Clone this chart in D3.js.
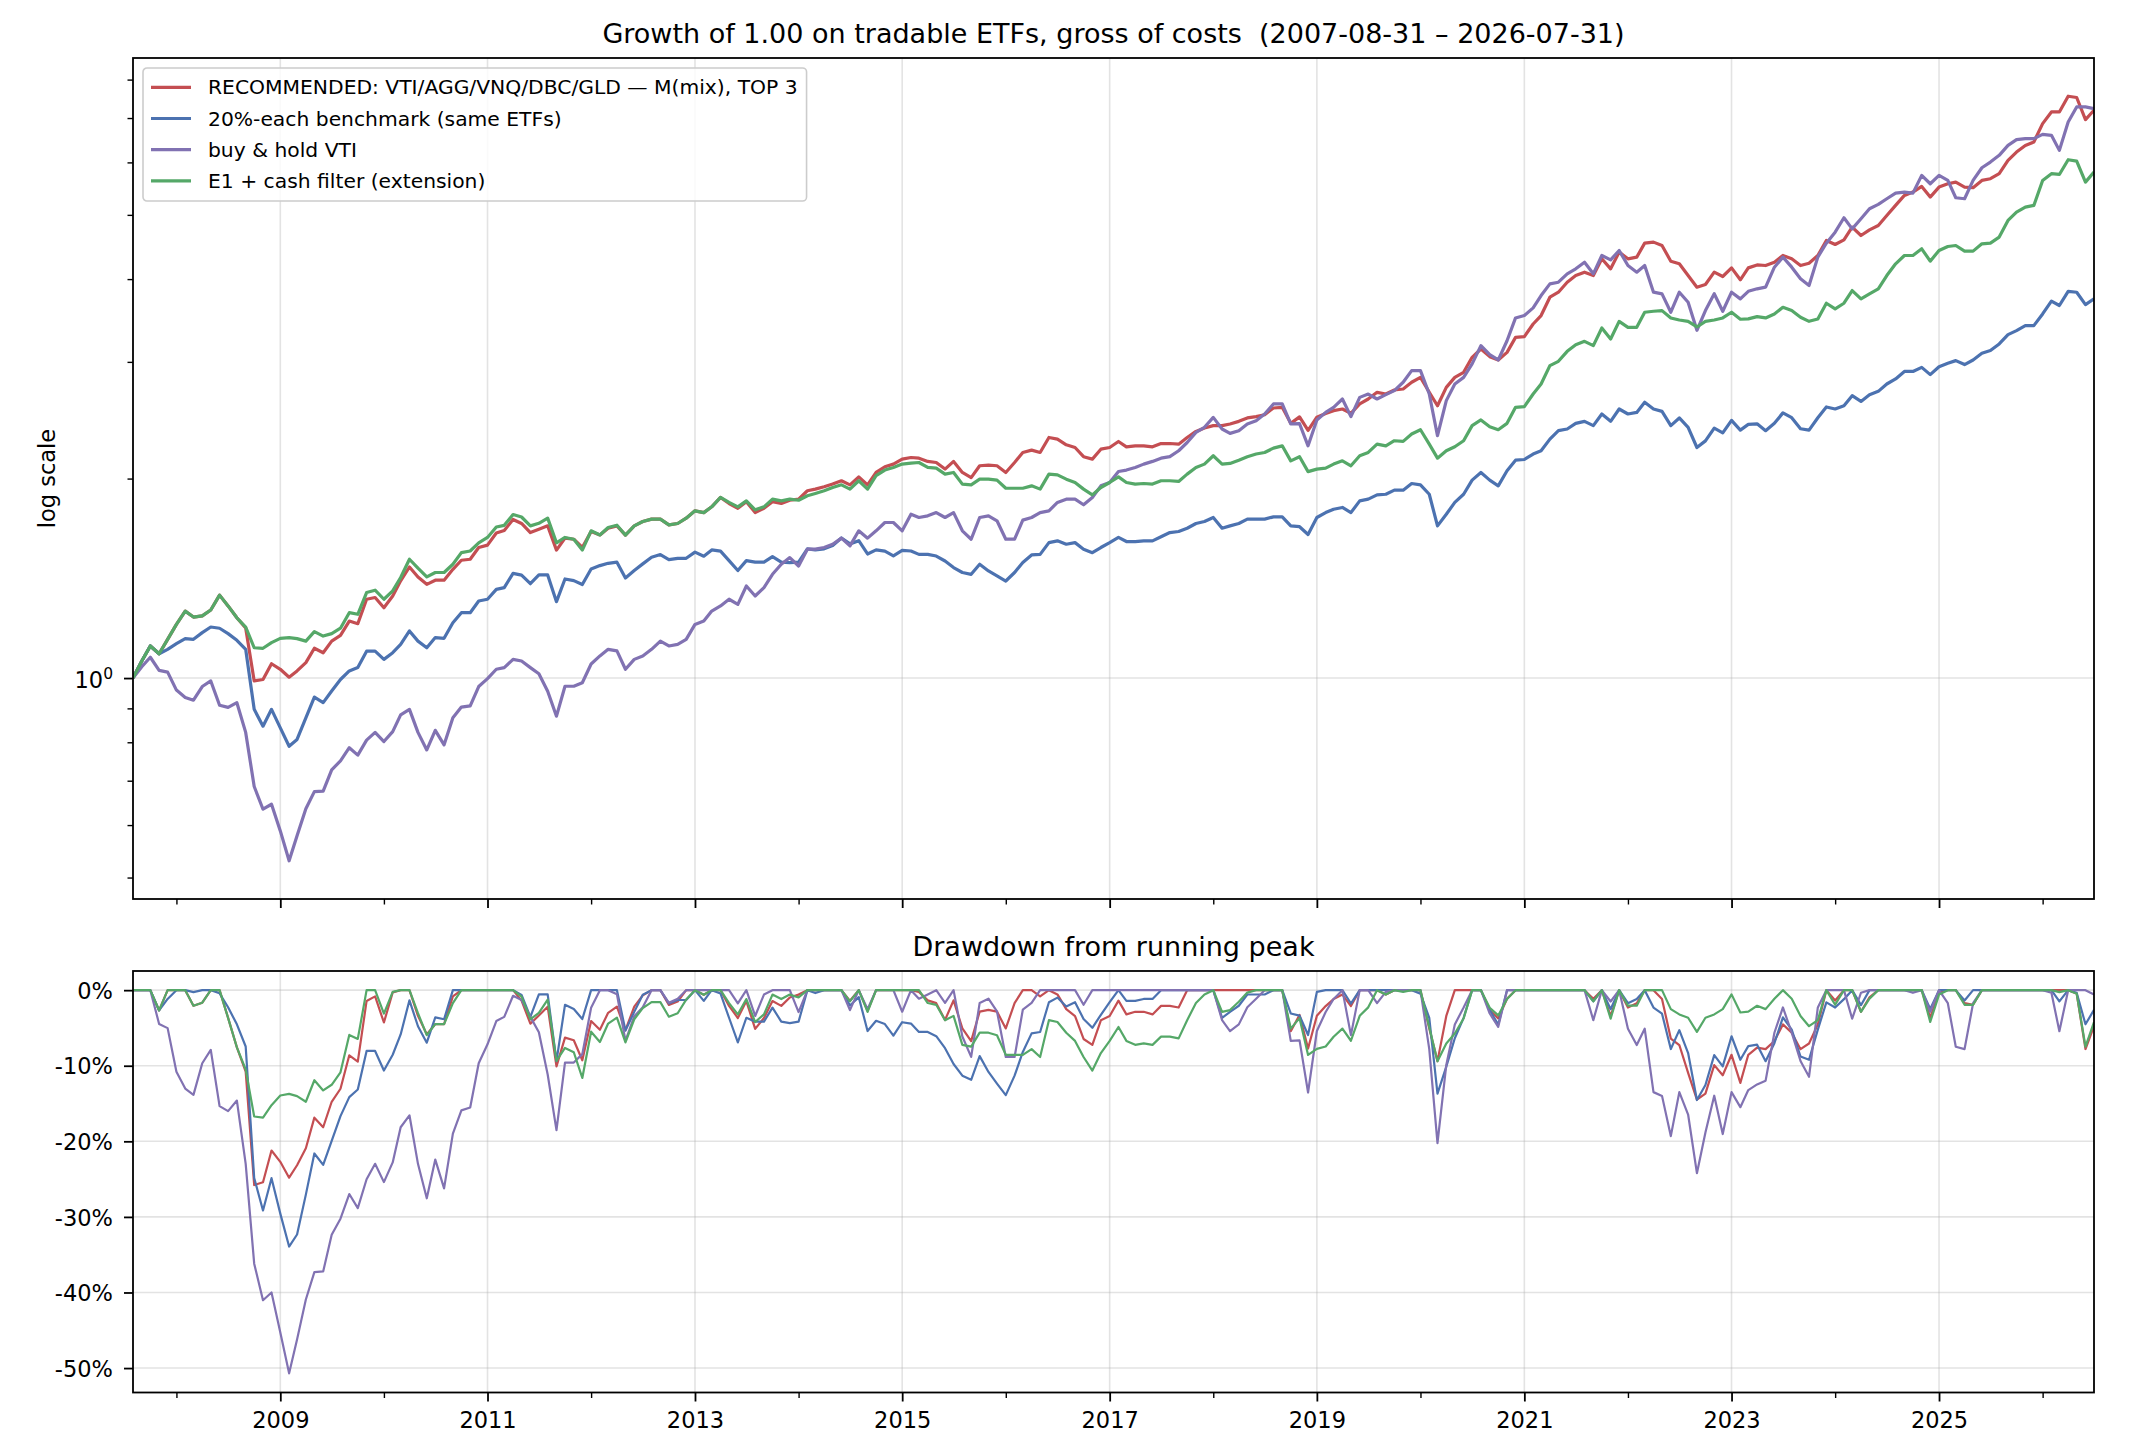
<!DOCTYPE html>
<html>
<head>
<meta charset="utf-8">
<script src="https://cdn.jsdelivr.net/npm/d3@7"></script>
<style>
  html, body { margin: 0; padding: 0; background: #fff; }
  svg { display: block; font-family: "DejaVu Sans", sans-serif; }
  text { white-space: pre; fill: #000; }
</style>
</head>
<body>
<svg id="chart" width="2130" height="1456" viewBox="0 0 2130 1456"></svg>
<script>
'use strict';

/* global d3 */

// monthly points, one per month from Aug 2007 to Jul 2026
var startMonth = new Date(2007, 7, 1);
var endMonth = new Date(2026, 6, 1);

var seriesNames = [
  'RECOMMENDED: VTI/AGG/VNQ/DBC/GLD \u2014 M(mix), TOP 3',
  '20%-each benchmark (same ETFs)',
  'buy & hold VTI',
  'E1 + cash filter (extension)'
];
var seriesColors = ['#c44e52', '#4c72b0', '#8172b2', '#55a868'];

// growth of 1.00, one row per year (Aug..Jul)
var recommended = [
  1.000, 1.061, 1.118, 1.088, 1.144, 1.205, 1.262, 1.236, 1.241, 1.267, 1.334, 1.285,
  1.233, 1.190, 0.990, 0.995, 1.051, 1.031, 1.003, 1.025, 1.055, 1.109, 1.092, 1.137,
  1.160, 1.219, 1.208, 1.315, 1.323, 1.277, 1.330, 1.402, 1.471, 1.421, 1.385, 1.405,
  1.405, 1.459, 1.506, 1.511, 1.574, 1.587, 1.655, 1.670, 1.735, 1.711, 1.658, 1.677,
  1.697, 1.560, 1.626, 1.620, 1.574, 1.664, 1.644, 1.683, 1.697, 1.643, 1.697, 1.723,
  1.737, 1.737, 1.703, 1.711, 1.743, 1.788, 1.777, 1.813, 1.873, 1.834, 1.804, 1.846,
  1.777, 1.804, 1.846, 1.834, 1.855, 1.862, 1.917, 1.928, 1.944, 1.962, 1.985, 1.957,
  2.012, 1.957, 2.043, 2.084, 2.103, 2.140, 2.152, 2.147, 2.123, 2.115, 2.067, 2.123,
  2.043, 2.007, 2.091, 2.096, 2.091, 2.043, 2.115, 2.190, 2.208, 2.190, 2.307, 2.294,
  2.249, 2.228, 2.158, 2.140, 2.215, 2.228, 2.275, 2.233, 2.241, 2.241, 2.233, 2.259,
  2.259, 2.254, 2.307, 2.356, 2.384, 2.404, 2.404, 2.418, 2.440, 2.469, 2.480, 2.497,
  2.556, 2.562, 2.423, 2.478, 2.364, 2.475, 2.508, 2.532, 2.547, 2.508, 2.592, 2.637,
  2.699, 2.683, 2.721, 2.730, 2.795, 2.843, 2.699, 2.576, 2.746, 2.843, 2.893, 3.048,
  3.137, 3.055, 3.020, 3.101, 3.267, 3.275, 3.422, 3.524, 3.756, 3.822, 3.957, 4.050,
  4.097, 4.050, 4.292, 4.145, 4.393, 4.292, 4.317, 4.532, 4.548, 4.495, 4.257, 4.218,
  4.050, 3.889, 3.925, 4.097, 4.036, 4.159, 3.990, 4.159, 4.202, 4.193, 4.242, 4.342,
  4.292, 4.193, 4.227, 4.342, 4.574, 4.511, 4.585, 4.791, 4.654, 4.746, 4.819, 4.990,
  5.167, 5.350, 5.412, 5.520, 5.319, 5.507, 5.571, 5.603, 5.507, 5.495, 5.636, 5.669,
  5.769, 6.042, 6.219, 6.365, 6.440, 6.866, 7.150, 7.150, 7.551, 7.517, 6.963, 7.192
];

var benchmark = [
  1.000, 1.061, 1.118, 1.088, 1.105, 1.127, 1.147, 1.144, 1.171, 1.194, 1.189, 1.167,
  1.140, 1.105, 0.897, 0.846, 0.897, 0.841, 0.789, 0.808, 0.871, 0.936, 0.918, 0.956,
  0.995, 1.025, 1.037, 1.098, 1.098, 1.067, 1.092, 1.124, 1.178, 1.137, 1.111, 1.151,
  1.148, 1.212, 1.255, 1.255, 1.307, 1.315, 1.361, 1.369, 1.439, 1.430, 1.388, 1.431,
  1.431, 1.304, 1.411, 1.403, 1.384, 1.461, 1.478, 1.490, 1.496, 1.416, 1.453, 1.487,
  1.522, 1.536, 1.509, 1.516, 1.516, 1.549, 1.527, 1.561, 1.554, 1.504, 1.453, 1.504,
  1.496, 1.496, 1.525, 1.496, 1.493, 1.496, 1.567, 1.561, 1.567, 1.585, 1.627, 1.594,
  1.612, 1.539, 1.561, 1.554, 1.529, 1.558, 1.555, 1.537, 1.537, 1.528, 1.502, 1.468,
  1.443, 1.434, 1.485, 1.451, 1.426, 1.401, 1.443, 1.494, 1.534, 1.537, 1.601, 1.611,
  1.592, 1.601, 1.565, 1.546, 1.574, 1.601, 1.630, 1.607, 1.607, 1.611, 1.611, 1.634,
  1.658, 1.664, 1.683, 1.711, 1.723, 1.747, 1.683, 1.697, 1.711, 1.737, 1.737, 1.737,
  1.751, 1.751, 1.697, 1.692, 1.647, 1.747, 1.777, 1.798, 1.809, 1.777, 1.851, 1.862,
  1.890, 1.894, 1.921, 1.921, 1.966, 1.957, 1.894, 1.697, 1.767, 1.841, 1.894, 1.989,
  2.043, 1.989, 1.950, 2.055, 2.132, 2.137, 2.178, 2.203, 2.294, 2.362, 2.376, 2.423,
  2.440, 2.404, 2.503, 2.440, 2.547, 2.503, 2.517, 2.607, 2.547, 2.526, 2.404, 2.469,
  2.390, 2.228, 2.280, 2.383, 2.344, 2.448, 2.367, 2.414, 2.419, 2.362, 2.424, 2.513,
  2.471, 2.378, 2.367, 2.471, 2.565, 2.547, 2.576, 2.668, 2.615, 2.677, 2.708, 2.778,
  2.827, 2.902, 2.902, 2.943, 2.870, 2.950, 2.985, 3.013, 2.972, 3.020, 3.091, 3.120,
  3.193, 3.298, 3.344, 3.403, 3.403, 3.544, 3.704, 3.649, 3.834, 3.821, 3.661, 3.734
];

var buyHoldVti = [
  1.000, 1.040, 1.075, 1.027, 1.021, 0.959, 0.935, 0.926, 0.971, 0.990, 0.910, 0.903,
  0.918, 0.828, 0.686, 0.634, 0.645, 0.588, 0.530, 0.578, 0.635, 0.674, 0.675, 0.727,
  0.750, 0.785, 0.765, 0.806, 0.828, 0.802, 0.830, 0.880, 0.897, 0.828, 0.779, 0.834,
  0.793, 0.871, 0.904, 0.908, 0.971, 0.998, 1.031, 1.037, 1.067, 1.061, 1.037, 1.015,
  0.955, 0.876, 0.972, 0.972, 0.984, 1.050, 1.080, 1.105, 1.099, 1.031, 1.067, 1.080,
  1.105, 1.137, 1.118, 1.124, 1.144, 1.205, 1.219, 1.262, 1.285, 1.315, 1.292, 1.377,
  1.330, 1.369, 1.434, 1.485, 1.520, 1.476, 1.565, 1.565, 1.574, 1.592, 1.626, 1.583,
  1.668, 1.626, 1.668, 1.717, 1.717, 1.668, 1.767, 1.747, 1.757, 1.777, 1.747, 1.777,
  1.668, 1.620, 1.747, 1.757, 1.727, 1.620, 1.620, 1.731, 1.747, 1.777, 1.788, 1.841,
  1.862, 1.862, 1.826, 1.873, 1.950, 1.973, 2.050, 2.060, 2.079, 2.103, 2.123, 2.147,
  2.158, 2.203, 2.267, 2.348, 2.390, 2.474, 2.376, 2.340, 2.362, 2.418, 2.446, 2.503,
  2.592, 2.592, 2.418, 2.420, 2.241, 2.452, 2.517, 2.562, 2.637, 2.480, 2.652, 2.683,
  2.637, 2.677, 2.715, 2.795, 2.910, 2.910, 2.683, 2.321, 2.622, 2.778, 2.843, 2.979,
  3.174, 3.076, 3.020, 3.229, 3.495, 3.524, 3.619, 3.778, 3.934, 3.957, 4.074, 4.145,
  4.242, 4.074, 4.342, 4.277, 4.418, 4.193, 4.097, 4.193, 3.822, 3.800, 3.565, 3.822,
  3.691, 3.348, 3.586, 3.801, 3.577, 3.822, 3.734, 3.834, 3.867, 3.889, 4.169, 4.317,
  4.169, 4.004, 3.912, 4.317, 4.532, 4.708, 4.950, 4.763, 4.933, 5.108, 5.185, 5.288,
  5.393, 5.412, 5.393, 5.735, 5.571, 5.735, 5.636, 5.306, 5.288, 5.636, 5.890, 6.007,
  6.149, 6.365, 6.493, 6.516, 6.516, 6.615, 6.592, 6.256, 6.906, 7.275, 7.275, 7.233
];

var cashFilter = [
  1.000, 1.061, 1.118, 1.088, 1.144, 1.205, 1.262, 1.236, 1.241, 1.267, 1.334, 1.285,
  1.233, 1.194, 1.111, 1.109, 1.131, 1.148, 1.151, 1.147, 1.137, 1.175, 1.157, 1.167,
  1.189, 1.255, 1.248, 1.346, 1.357, 1.315, 1.354, 1.418, 1.511, 1.465, 1.421, 1.443,
  1.443, 1.485, 1.546, 1.555, 1.600, 1.630, 1.690, 1.700, 1.765, 1.750, 1.697, 1.712,
  1.743, 1.600, 1.630, 1.620, 1.560, 1.668, 1.644, 1.687, 1.701, 1.643, 1.697, 1.723,
  1.737, 1.737, 1.703, 1.711, 1.743, 1.788, 1.777, 1.813, 1.873, 1.841, 1.813, 1.851,
  1.794, 1.813, 1.862, 1.851, 1.862, 1.855, 1.884, 1.899, 1.917, 1.939, 1.957, 1.928,
  1.985, 1.928, 2.020, 2.060, 2.079, 2.103, 2.110, 2.115, 2.079, 2.074, 2.031, 2.043,
  1.962, 1.957, 1.996, 1.996, 1.989, 1.934, 1.934, 1.934, 1.950, 1.928, 2.031, 2.026,
  1.996, 1.973, 1.928, 1.890, 1.939, 1.973, 2.012, 1.973, 1.962, 1.966, 1.962, 1.985,
  1.985, 1.980, 2.031, 2.079, 2.103, 2.165, 2.103, 2.108, 2.132, 2.158, 2.178, 2.190,
  2.223, 2.241, 2.127, 2.158, 2.049, 2.067, 2.074, 2.103, 2.127, 2.091, 2.165, 2.190,
  2.254, 2.241, 2.281, 2.276, 2.335, 2.370, 2.254, 2.147, 2.203, 2.234, 2.281, 2.404,
  2.452, 2.395, 2.370, 2.423, 2.562, 2.568, 2.683, 2.778, 2.961, 3.006, 3.112, 3.185,
  3.222, 3.174, 3.375, 3.248, 3.454, 3.383, 3.383, 3.565, 3.577, 3.585, 3.495, 3.470,
  3.454, 3.387, 3.454, 3.470, 3.495, 3.565, 3.479, 3.483, 3.511, 3.495, 3.544, 3.627,
  3.586, 3.503, 3.454, 3.483, 3.678, 3.607, 3.678, 3.844, 3.734, 3.801, 3.867, 4.050,
  4.218, 4.342, 4.342, 4.444, 4.257, 4.418, 4.480, 4.495, 4.408, 4.408, 4.521, 4.532,
  4.628, 4.904, 5.048, 5.137, 5.167, 5.636, 5.769, 5.754, 6.056, 6.028, 5.603, 5.800
];

var majorYears = [2009, 2011, 2013, 2015, 2017, 2019, 2021, 2023, 2025];
var minorYears = [2008, 2010, 2012, 2014, 2016, 2018, 2020, 2022, 2024, 2026];
var logMajorTicks = [1];
var logMinorTicks = [0.5, 0.6, 0.7, 0.8, 0.9, 2, 3, 4, 5, 6, 7, 8];
var ddTicks = [0, -0.1, -0.2, -0.3, -0.4, -0.5];

(function () {
  var svg = d3.select('#chart');
  var left = 133, right = 2094;
  var top1 = { top: 58, bottom: 899 };
  var top2 = { top: 971, bottom: 1392.5 };

  var months = d3.timeMonth.range(startMonth, d3.timeMonth.offset(endMonth, 1));
  var allSeries = [recommended, benchmark, buyHoldVti, cashFilter];

  function drawdown(vals) {
    var peak = -Infinity;
    return vals.map(function (v) {
      peak = Math.max(peak, v);
      return v / peak - 1;
    });
  }
  var ddSeries = allSeries.map(drawdown);

  // matplotlib-like 5% margins
  var allVals = d3.merge(allSeries);
  var lmin = Math.log10(d3.min(allVals)), lmax = Math.log10(d3.max(allVals));
  var lpad = (lmax - lmin) * 0.05;
  var ddMin = d3.min(d3.merge(ddSeries)), ddMax = 0;
  var dpad = (ddMax - ddMin) * 0.05;

  var x = d3.scaleTime().domain([startMonth, endMonth]).range([left, right]);
  var y = d3.scaleLog().domain([Math.pow(10, lmin - lpad), Math.pow(10, lmax + lpad)]).range([top1.bottom, top1.top]);
  var yd = d3.scaleLinear().domain([ddMin - dpad, ddMax + dpad]).range([top2.bottom, top2.top]);

  var yearDate = function (yr) { return new Date(yr, 0, 1); };

  var defs = svg.append('defs');
  defs.append('clipPath').attr('id', 'clip1').append('rect')
    .attr('x', left).attr('y', top1.top).attr('width', right - left).attr('height', top1.bottom - top1.top);
  defs.append('clipPath').attr('id', 'clip2').append('rect')
    .attr('x', left).attr('y', top2.top).attr('width', right - left).attr('height', top2.bottom - top2.top);

  function gridX(panel) {
    svg.append('g').selectAll('line').data(majorYears).enter().append('line')
      .attr('x1', function (d) { return x(yearDate(d)); })
      .attr('x2', function (d) { return x(yearDate(d)); })
      .attr('y1', panel.top).attr('y2', panel.bottom)
      .attr('stroke', '#b0b0b0').attr('stroke-opacity', 0.35).attr('stroke-width', 1.6);
  }

  function gridY(scale, ticks) {
    svg.append('g').selectAll('line').data(ticks).enter().append('line')
      .attr('x1', left).attr('x2', right)
      .attr('y1', function (d) { return scale(d); })
      .attr('y2', function (d) { return scale(d); })
      .attr('stroke', '#b0b0b0').attr('stroke-opacity', 0.35).attr('stroke-width', 1.6);
  }

  function styleAxis(g, width) {
    g.select('.domain').remove();
    g.selectAll('.tick line').attr('stroke', '#000').attr('stroke-width', width);
    g.selectAll('.tick text').attr('font-size', 22.5).attr('font-family', '"DejaVu Sans", sans-serif').attr('fill', '#000');
  }

  // gridlines
  gridX(top1);
  gridY(y, logMajorTicks);
  gridX(top2);
  gridY(yd, ddTicks);

  // growth lines
  var line = d3.line().x(function (d, i) { return x(months[i]); }).y(function (d) { return y(d); });
  svg.append('g').attr('clip-path', 'url(#clip1)').selectAll('path').data(allSeries).enter().append('path')
    .attr('d', line).attr('fill', 'none')
    .attr('stroke', function (d, i) { return seriesColors[i]; })
    .attr('stroke-width', 3.2).attr('stroke-linejoin', 'round').attr('stroke-linecap', 'butt');

  // drawdown lines
  var ddLine = d3.line().x(function (d, i) { return x(months[i]); }).y(function (d) { return yd(d); });
  svg.append('g').attr('clip-path', 'url(#clip2)').selectAll('path').data(ddSeries).enter().append('path')
    .attr('d', ddLine).attr('fill', 'none')
    .attr('stroke', function (d, i) { return seriesColors[i]; })
    .attr('stroke-width', 2.2).attr('stroke-linejoin', 'round').attr('stroke-linecap', 'butt');

  // x axes (top panel without labels)
  [top1, top2].forEach(function (panel, k) {
    var major = svg.append('g').attr('transform', 'translate(0,' + panel.bottom + ')')
      .call(d3.axisBottom(x).tickValues(majorYears.map(yearDate)).tickSize(9).tickPadding(13)
        .tickFormat(k === 0 ? '' : d3.timeFormat('%Y')));
    styleAxis(major, 1.8);
    major.selectAll('.tick text').attr('dy', null).attr('y', 35.5);
    var minor = svg.append('g').attr('transform', 'translate(0,' + panel.bottom + ')')
      .call(d3.axisBottom(x).tickValues(minorYears.map(yearDate)).tickSize(5.5).tickFormat(''));
    styleAxis(minor, 1.4);
  });

  // log y axis
  var yMajor = svg.append('g').attr('transform', 'translate(' + left + ',0)')
    .call(d3.axisLeft(y).tickValues(logMajorTicks).tickSize(9).tickFormat(''));
  styleAxis(yMajor, 1.8);
  var yMinor = svg.append('g').attr('transform', 'translate(' + left + ',0)')
    .call(d3.axisLeft(y).tickValues(logMinorTicks).tickSize(5.5).tickFormat(''));
  styleAxis(yMinor, 1.4);
  logMajorTicks.forEach(function (t) {
    var lbl = svg.append('text').attr('x', 113).attr('y', y(t) + 10)
      .attr('text-anchor', 'end').attr('font-size', 22.5).text('10');
    lbl.append('tspan').attr('dy', -9).attr('font-size', 15.5).text(Math.round(Math.log10(t)));
  });

  // drawdown y axis
  var ydAxis = svg.append('g').attr('transform', 'translate(' + left + ',0)')
    .call(d3.axisLeft(yd).tickValues(ddTicks).tickSize(9).tickPadding(11)
      .tickFormat(function (d) { return Math.round(d * 100) + '%'; }));
  styleAxis(ydAxis, 1.8);
  ydAxis.selectAll('.tick text').attr('dy', '0.36em');

  // frames
  [top1, top2].forEach(function (panel) {
    svg.append('rect').attr('x', left).attr('y', panel.top)
      .attr('width', right - left).attr('height', panel.bottom - panel.top)
      .attr('fill', 'none').attr('stroke', '#000').attr('stroke-width', 1.8);
  });

  // titles and labels
  var cx = (left + right) / 2;
  svg.append('text').attr('x', cx).attr('y', top1.top - 15.5).attr('text-anchor', 'middle').attr('font-size', 27)
    .text('Growth of 1.00 on tradable ETFs, gross of costs  (2007-08-31 \u2013 2026-07-31)');
  svg.append('text').attr('x', cx).attr('y', top2.top - 15.5).attr('text-anchor', 'middle').attr('font-size', 27)
    .text('Drawdown from running peak');
  svg.append('text').attr('transform', 'translate(55,' + ((top1.top + top1.bottom) / 2) + ') rotate(-90)')
    .attr('text-anchor', 'middle').attr('font-size', 22.5).text('log scale');

  // legend
  var lg = svg.append('g').attr('transform', 'translate(143,68)');
  var box = lg.append('rect').attr('x', 0).attr('y', 0).attr('rx', 4).attr('ry', 4)
    .attr('height', 133).attr('fill', '#fff').attr('fill-opacity', 0.8)
    .attr('stroke', '#cccccc').attr('stroke-width', 1.6);
  var maxLen = 0;
  seriesNames.forEach(function (name, i) {
    var cy = 19.3 + i * 31.2;
    lg.append('line').attr('x1', 8).attr('x2', 48).attr('y1', cy).attr('y2', cy)
      .attr('stroke', seriesColors[i]).attr('stroke-width', 3.2);
    var t = lg.append('text').attr('x', 65).attr('y', cy + 7).attr('font-size', 20.3).text(name);
    maxLen = Math.max(maxLen, t.node().getComputedTextLength());
  });
  box.attr('width', 65 + maxLen + 9);
})();
</script>
</body>
</html>
